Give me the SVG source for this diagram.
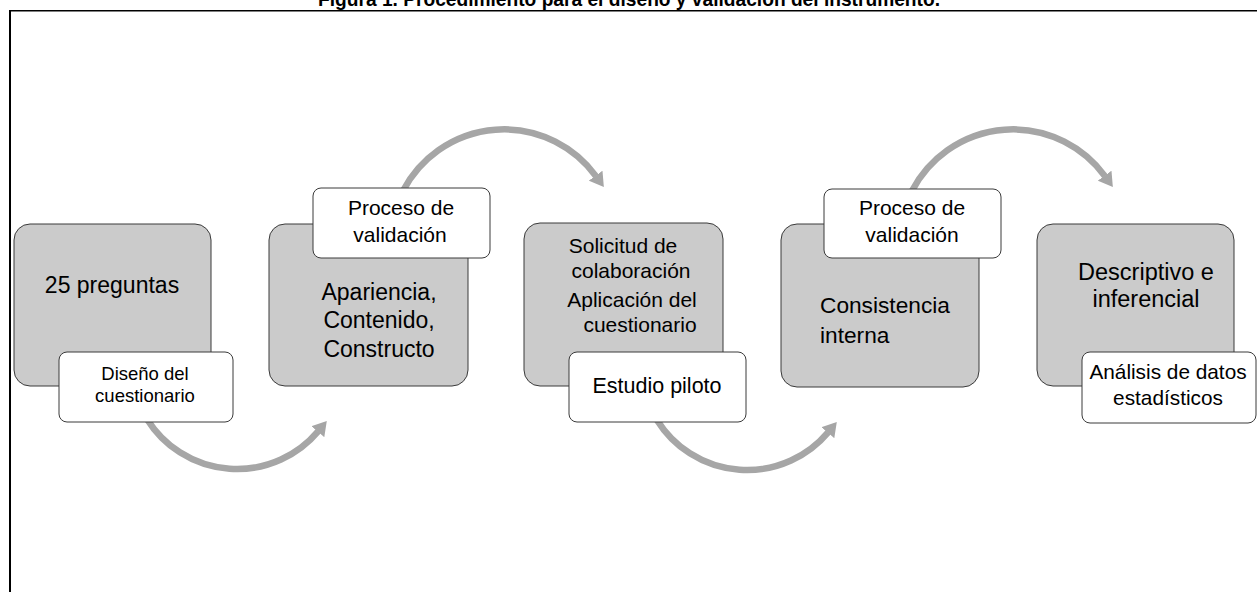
<svg xmlns="http://www.w3.org/2000/svg" width="1257" height="592" viewBox="0 0 1257 592">
<style>
text{font-family:"Liberation Sans",Arial,sans-serif;fill:#000}
.box{fill:#cbcbcb;stroke:#3a3a3a;stroke-width:1}
.lbl{fill:#fff;stroke:#3a3a3a;stroke-width:1}
.arc{fill:none;stroke:#a6a6a6;stroke-width:6.5}
.c{text-anchor:middle}
.big{font-size:23px}
</style>
<defs>
<marker id="ah" markerUnits="userSpaceOnUse" markerWidth="14" markerHeight="17" viewBox="0 0 14 17" refX="0.5" refY="8.5" orient="auto">
<path d="M0,0 L14,8.5 L0,17 z" fill="#a6a6a6"/>
</marker>
</defs>
<rect width="1257" height="592" fill="#fff"/>
<text x="318" y="6" textLength="622" lengthAdjust="spacingAndGlyphs" style="font-weight:bold;font-size:20px">Figura 1. Procedimiento para el diseño y validación del instrumento.</text>
<g id="frame" fill="none" stroke="#000">
<line x1="9" y1="10.8" x2="1257" y2="10.8" stroke-width="1.6"/>
<line x1="10" y1="10" x2="10" y2="592" stroke-width="2"/>
</g>
<g id="connectors">
<path class="arc" d="M147.1,419.2 A106,106 0 0,0 318.1,431.3" marker-end="url(#ah)"/>
<path class="arc" d="M403.2,190.5 A113.7,113.7 0 0,1 595.9,176.1" marker-end="url(#ah)"/>
<path class="arc" d="M657.1,420.2 A106,106 0 0,0 828.1,432.3" marker-end="url(#ah)"/>
<path class="arc" d="M912.2,190.5 A113.7,113.7 0 0,1 1104.9,176.1" marker-end="url(#ah)"/>
</g>
<g id="n1">
<rect class="box" x="14" y="224" width="197" height="162" rx="16"/>
<text class="c big" x="112" y="293">25 preguntas</text>
<rect class="lbl" x="59" y="352" width="174" height="70" rx="8"/>
<text class="c" x="145" y="380" font-size="18.5">Diseño del</text>
<text class="c" x="145" y="402" font-size="18.5">cuestionario</text>
</g>
<g id="n2">
<rect class="box" x="269" y="224" width="199" height="162" rx="16"/>
<text class="c big" x="379" y="300">Apariencia,</text>
<text class="c big" x="379" y="328">Contenido,</text>
<text class="c big" x="379" y="357">Constructo</text>
<rect class="lbl" x="313" y="188" width="177" height="70" rx="8"/>
<text class="c" x="401" y="215" font-size="21">Proceso de</text>
<text class="c" x="400" y="242" font-size="21">validación</text>
</g>
<g id="n3">
<rect class="box" x="524" y="223" width="199" height="163" rx="16"/>
<text class="c" x="623" y="253" font-size="21">Solicitud de</text>
<text class="c" x="631" y="278" font-size="21">colaboración</text>
<text class="c" x="632" y="307" font-size="21">Aplicación del</text>
<text class="c" x="640" y="332" font-size="21">cuestionario</text>
<rect class="lbl" x="569" y="352" width="177" height="70" rx="8"/>
<text class="c" x="657" y="393" font-size="21.5">Estudio piloto</text>
</g>
<g id="n4">
<rect class="box" x="781" y="224" width="198" height="163" rx="16"/>
<text x="820" y="313" font-size="22.7">Consistencia</text>
<text x="820" y="343" font-size="22.7">interna</text>
<rect class="lbl" x="824" y="189" width="177" height="69" rx="8"/>
<text class="c" x="912" y="215" font-size="21">Proceso de</text>
<text class="c" x="912" y="242" font-size="21">validación</text>
</g>
<g id="n5">
<rect class="box" x="1037" y="224" width="197" height="162" rx="16"/>
<text class="c" x="1146" y="280" font-size="23.5">Descriptivo e</text>
<text class="c" x="1146" y="307" font-size="23.5">inferencial</text>
<rect class="lbl" x="1082" y="352" width="174" height="71" rx="8"/>
<text class="c" x="1168" y="379" font-size="20.8">Análisis de datos</text>
<text class="c" x="1168" y="405" font-size="20.8">estadísticos</text>
</g>
</svg>
